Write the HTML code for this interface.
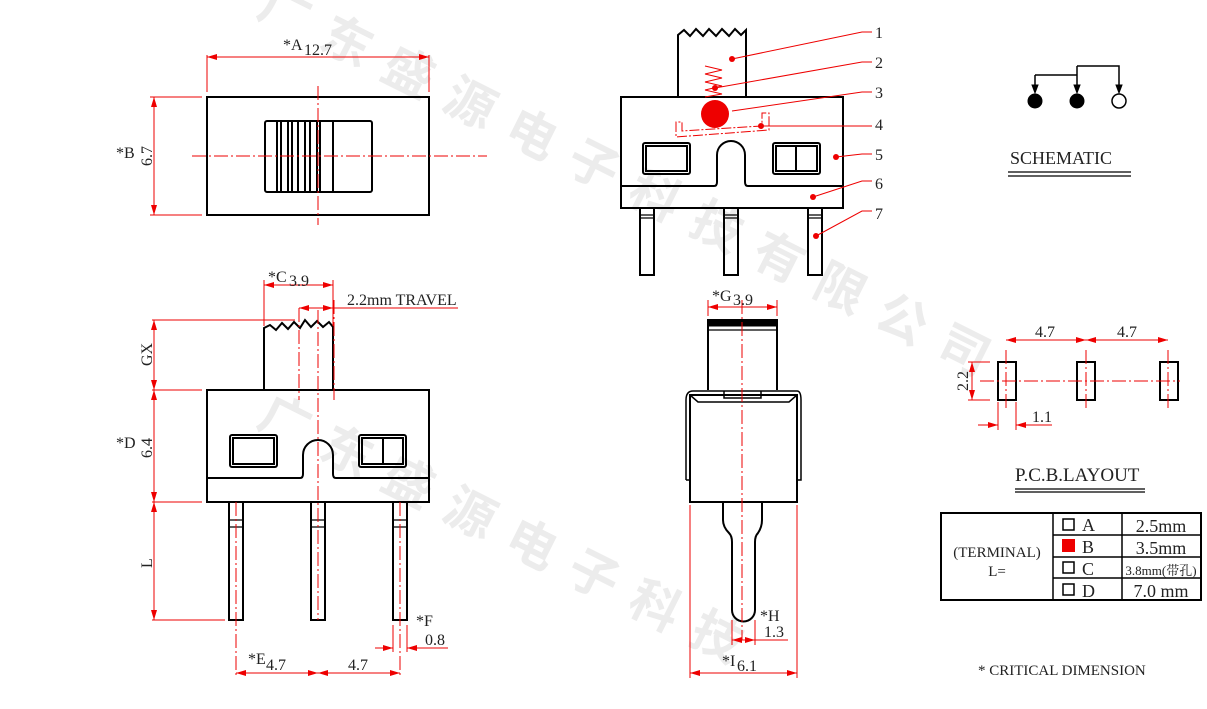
<!DOCTYPE html>
<html><head><meta charset="utf-8"><style>
html,body{margin:0;padding:0;background:#fff;width:1207px;height:709px;overflow:hidden}
svg{display:block;overflow:hidden}
text{font-family:"Liberation Serif","Noto Serif CJK SC",serif;font-size:16px;fill:#222}
.wm{font-family:"Noto Sans CJK SC","WenQuanYi Zen Hei",sans-serif;font-size:50px;fill:#ececec;font-weight:bold}
</style></head><body>
<svg width="1207" height="709" viewBox="0 0 1207 709" xmlns="http://www.w3.org/2000/svg">
<defs>
<marker id="a" viewBox="0 0 10 6" refX="10" refY="3" markerWidth="10" markerHeight="6" orient="auto-start-reverse" markerUnits="userSpaceOnUse"><path d="M0,0L10,3L0,6z" fill="#e00"/></marker>
</defs>
<g transform="translate(255,15) rotate(26.6)"><text class="wm" letter-spacing="19">广东盛源电子科技有限公司</text></g>
<g transform="translate(255,425) rotate(26.6)"><text class="wm" letter-spacing="19">广东盛源电子科技</text></g>

<g fill="none" stroke="#000" stroke-width="2">
<rect x="207" y="97" width="222" height="118"/>
<rect x="265" y="121" width="107" height="71" rx="2"/>
<path d="M277 121V192M281 121V192M288 121V192M292 121V192M298 121V192M305 121V192M310 121V192M317 121V192M320 121V192M333 121V192"/>
<path d="M678 97V35L684 30L690 36L696 29L703 36L709 29L716 36L722 29L729 36L735 29L741 35L746 30V97"/>
<rect x="621" y="97" width="222" height="111"/>
<path d="M621 186H714Q717 186 717 182V155A14 14 0 0 1 745 155V182Q745 186 748 186H843"/>
<rect x="643" y="143" width="47" height="31" rx="2"/><rect x="646" y="146" width="41" height="25"/>
<rect x="773" y="143" width="47" height="31" rx="2"/><rect x="776" y="146" width="41" height="25"/><path d="M796 146V171"/>
<rect x="640" y="208" width="14" height="67"/><rect x="724" y="208" width="14" height="67"/><rect x="808" y="208" width="14" height="67"/>
<path d="M640 215H654M640 218H654M724 215H738M724 218H738M808 215H822M808 218H822" stroke-width="1.2"/>
<path d="M264 390V328L270 325L276 330L282 323L288 329L294 322L300 328L305 320L311 327L317 321L323 327L329 322L333 327V390"/>
<rect x="207" y="390" width="222" height="112"/>
<path d="M207 478H300Q303 478 303 474V455A15 15 0 0 1 333 455V474Q333 478 336 478H429"/>
<rect x="230" y="435" width="47" height="32" rx="2"/><rect x="233" y="438" width="41" height="26"/>
<rect x="359" y="435" width="47" height="32" rx="2"/><rect x="362" y="438" width="41" height="26"/><path d="M383 438V464"/>
<rect x="229" y="502" width="14" height="118"/><rect x="311" y="502" width="14" height="118"/><rect x="393" y="502" width="14" height="118"/>
<path d="M229 520H243M229 527H243M311 520H325M311 527H325M393 520H407M393 527H407" stroke-width="1.2"/>
<path d="M708 390V320H777V390"/>
<rect x="708" y="320" width="69" height="6" fill="#000" stroke-width="1"/>
<path d="M708 330H777" stroke-width="1.2"/>
<rect x="690" y="395" width="107" height="107"/>
<path d="M690 395H797M686 480V400Q686 391 693 391H797Q801 391 801 400V480H797M690 480H686M690 395L698 402H789L797 395M724 391V398H761V391" stroke-width="1.5"/>
<path d="M723 502V520Q723 527 729 533Q732 536 732 542V610A11.5 11.5 0 0 0 755 610V542Q755 536 758 533Q762 527 762 520V502"/>
<path d="M1077 66H1119V92M1035 75H1077M1035 75V92M1077 66V92" stroke-width="1.5"/>
<path d="M1032 85L1035 93L1038 85zM1074 85L1077 93L1080 85zM1116 85L1119 93L1122 85z" fill="#000" stroke-width="1"/>
<circle cx="1035" cy="101" r="7" fill="#000" stroke-width="1"/>
<circle cx="1077" cy="101" r="7" fill="#000" stroke-width="1"/>
<circle cx="1119" cy="101" r="7" fill="#fff" stroke-width="1.5"/>
<path d="M1008 172H1131M1008 176H1131" stroke-width="1.2"/>
<rect x="998" y="362" width="18" height="38"/><rect x="1077" y="362" width="18" height="38"/><rect x="1160" y="362" width="18" height="38"/>
<path d="M1015 489H1145M1015 492H1145" stroke-width="1.2"/>
<rect x="941" y="513" width="260" height="87"/>
<path d="M1053 513V600M1122 513V600M1053 535H1201M1053 557H1201M1053 578H1201" stroke-width="1.5"/>
<rect x="1063" y="519" width="11" height="11" stroke-width="1.5"/>
<rect x="1063" y="540" width="11" height="11" fill="#e00" stroke="#e00"/>
<rect x="1063" y="562" width="11" height="11" stroke-width="1.5"/>
<rect x="1063" y="584" width="11" height="11" stroke-width="1.5"/>
</g>

<g fill="none" stroke="#e00" stroke-width="1">
<path d="M318 86V225M742 300V640M318 310V620M236 502V675M400 502V675M1006 350V410M1086 350V410M1168 350V410" stroke-dasharray="14 3 2 3"/>
<path d="M192 156H487M980 381H1180" stroke-dasharray="14 3 2 3"/>
<path d="M299 308V400M334 300V400" stroke-dasharray="14 3 2 3"/>
<path d="M207 55V92M429 55V92M150 97H202M150 215H202"/>
<path d="M207 57H429" marker-start="url(#a)" marker-end="url(#a)"/>
<path d="M154 97V215" marker-start="url(#a)" marker-end="url(#a)"/>
<path d="M152 320H295M152 390H202M152 502H202M152 620H225M264 280V326M333 280V326"/>
<path d="M154 320V390" marker-start="url(#a)" marker-end="url(#a)"/>
<path d="M154 390V502" marker-start="url(#a)" marker-end="url(#a)"/>
<path d="M154 502V620" marker-start="url(#a)" marker-end="url(#a)"/>
<path d="M264 285H333" marker-start="url(#a)" marker-end="url(#a)"/>
<path d="M299 308H333" marker-start="url(#a)" marker-end="url(#a)"/><path d="M333 308H458"/>
<path d="M236 673H318" marker-start="url(#a)" marker-end="url(#a)"/>
<path d="M318 673H400" marker-start="url(#a)" marker-end="url(#a)"/>
<path d="M393 625V652M407 625V652M375 648H393"/><path d="M380 648H393" marker-end="url(#a)"/><path d="M420 648H407" marker-end="url(#a)"/><path d="M407 648H448"/>
<path d="M708 300V316M777 300V316M690 505V678M797 505V678M732 620V645M755 620V645"/>
<path d="M708 307H777" marker-start="url(#a)" marker-end="url(#a)"/>
<path d="M690 673H797" marker-start="url(#a)" marker-end="url(#a)"/>
<path d="M732 640H755" marker-start="url(#a)" marker-end="url(#a)"/><path d="M755 640H788"/>
<path d="M1006 340H1086" marker-start="url(#a)" marker-end="url(#a)"/>
<path d="M1086 340H1168" marker-start="url(#a)" marker-end="url(#a)"/>
<path d="M968 362H990M968 400H990M998 402V430M1016 402V430"/>
<path d="M972 362V400" marker-start="url(#a)" marker-end="url(#a)"/>
<path d="M978 425H998" marker-end="url(#a)"/><path d="M1040 425H1016" marker-end="url(#a)"/><path d="M1016 425H1052"/>
<path d="M732 59L862 32H872M715 88L862 62H872M732 111L862 92H872M761 126H872M836 157L862 154H872M813 197L862 181H872M816 236L862 211H872"/>
<path d="M705 66L722 70L705 74L722 78L705 82L722 86L705 90L722 94L705 97"/>
<path d="M676 122V137L769 130V113H762V126L682 131V122Z" stroke-dasharray="10 2 2 2"/>
</g>
<g fill="#e00">
<circle cx="715" cy="114" r="14"/>
<circle cx="732" cy="59" r="3"/><circle cx="715" cy="88" r="3"/><circle cx="761" cy="126" r="3"/>
<circle cx="836" cy="157" r="3"/><circle cx="813" cy="197" r="3"/><circle cx="816" cy="236" r="3"/>
</g>

<text x="283" y="50">*A</text><text x="304" y="55">12.7</text>
<text x="116" y="158">*B</text><text transform="translate(152,166) rotate(-90)">6.7</text>
<text x="268" y="282">*C</text><text x="289" y="286">3.9</text>
<text x="347" y="305">2.2mm TRAVEL</text>
<text transform="translate(152,366) rotate(-90)">GX</text>
<text x="116" y="448">*D</text><text transform="translate(152,458) rotate(-90)">6.4</text>
<text transform="translate(152,568) rotate(-90)">L</text>
<text x="248" y="664">*E</text><text x="266" y="670">4.7</text><text x="348" y="670">4.7</text>
<text x="416" y="626">*F</text><text x="425" y="645">0.8</text>
<text x="712" y="301">*G</text><text x="733" y="305">3.9</text>
<text x="760" y="621">*H</text><text x="764" y="637">1.3</text>
<text x="722" y="666">*I</text><text x="737" y="671">6.1</text>
<text x="875" y="38">1</text><text x="875" y="68">2</text><text x="875" y="98">3</text><text x="875" y="130">4</text><text x="875" y="160">5</text><text x="875" y="189">6</text><text x="875" y="219">7</text>
<text x="1010" y="164" style="font-size:18px">SCHEMATIC</text>
<text x="1035" y="337">4.7</text><text x="1117" y="337">4.7</text>
<text transform="translate(968,391) rotate(-90)">2.2</text>
<text x="1032" y="422">1.1</text>
<text x="1015" y="481" style="font-size:19px">P.C.B.LAYOUT</text>
<text x="997" y="557" text-anchor="middle" style="font-size:15px">(TERMINAL)</text>
<text x="997" y="576" text-anchor="middle" style="font-size:15px">L=</text>
<text x="1082" y="531" style="font-size:18px">A</text><text x="1082" y="553" style="font-size:18px">B</text><text x="1082" y="575" style="font-size:18px">C</text><text x="1082" y="597" style="font-size:18px">D</text>
<text x="1161" y="532" text-anchor="middle" style="font-size:18px">2.5mm</text>
<text x="1161" y="554" text-anchor="middle" style="font-size:18px">3.5mm</text>
<text x="1161" y="575" text-anchor="middle" style="font-size:13px">3.8mm(带孔)</text>
<text x="1161" y="597" text-anchor="middle" style="font-size:18px">7.0 mm</text>
<text x="978" y="675" style="font-size:15px">* CRITICAL  DIMENSION</text>
</svg>
</body></html>
